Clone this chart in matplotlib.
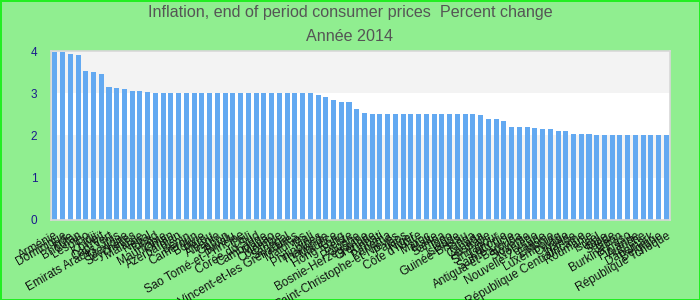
import matplotlib
matplotlib.use("Agg")
import matplotlib.pyplot as plt
import numpy as np

plt.rcParams["font.family"] = ["Liberation Sans", "DejaVu Sans"]

# Data (percent change, end of period, 2014)
countries = [
    "Arménie", "Dominique", "Inde", "Bhoutan", "Lesotho", "Fidji", "Koweït",
    "Cap-Vert", "Emirats Arabes Unis", "Mexique", "Seychelles", "Malaisie",
    "Népal", "Tchad", "Mauritanie", "Oman", "Azerbaïdjan", "Bénin", "Cameroun",
    "Bolivie", "Pérou", "Albanie", "Gabon", "Tuvalu", "Sao Tomé-et-Principe",
    "Chili", "Corée du Sud", "Cambodge", "Macao", "Colombie", "Sénégal",
    "Saint-Vincent-et-les Grenadines", "Maldives", "Mali", "Philippines",
    "Thaïlande", "Maurice", "Hong Kong", "Belize", "Pologne",
    "Bosnie-Herzégovine", "Grenade", "Kiribati", "Panama",
    "Saint-Christophe-et-Niévès", "Palaos", "Niger", "Côte d'Ivoire", "Maroc",
    "Malte", "Samoa", "Togo", "Islande", "Guinée-Bissau", "Tonga", "Canada",
    "Australie", "Singapour", "Lettonie", "Sainte-Lucie", "Antigua-et-Barbuda",
    "Slovénie", "Norvège", "Nouvelle-Zélande", "Estonie", "Luxembourg",
    "Croatie", "Irlande", "République Centrafricaine", "Roumanie", "Israël",
    "Italie", "Suède", "Japon", "Burkina Faso", "Finlande", "Autriche",
    "Danemark", "Belgique", "République Tchèque",
]
values = (
    [3.98, 3.97, 3.94, 3.90, 3.52, 3.50, 3.45, 3.14, 3.12, 3.09, 3.05, 3.05, 3.02]
    + [3.0] * 21
    + [2.95, 2.91, 2.83, 2.79, 2.79, 2.62, 2.53]
    + [2.5] * 14
    + [2.48, 2.39, 2.39, 2.34, 2.20, 2.20, 2.20, 2.17, 2.15, 2.15, 2.10, 2.10,
       2.03, 2.03, 2.03]
    + [2.0] * 10
)
yticks = [0, 1, 2, 3, 4]

fig = plt.figure(figsize=(7, 3), dpi=100, facecolor="#90ee90",
                 edgecolor="#22ee22", linewidth=2)
ax = fig.add_axes([0.073, 0.267, 0.884, 0.563])

# alternating horizontal bands
for lo, hi in zip(yticks[:-1], yticks[1:]):
    ax.axhspan(lo, hi, color="#f3f3f3" if lo % 2 == 1 else "white", zorder=0, lw=0)

x = np.arange(len(values))
ax.bar(x, values, width=0.65, color="#63a9f1", zorder=2)

ax.set_xlim(-0.48, len(values) - 0.55)
ax.set_ylim(0, 4)
ax.set_yticks(yticks)
ax.set_yticklabels([str(t) for t in yticks], color="#1a1a8c", fontsize=8.5)
ax.tick_params(axis="y", length=0, pad=10)
ax.tick_params(axis="x", length=0, pad=7)
ax.set_xticks(x)
ax.set_xticklabels(countries, rotation=30, ha="right", rotation_mode="anchor",
                   fontsize=8.5, color="#111111")
for s in ax.spines.values():
    s.set_color("#d8d8d8")
    s.set_linewidth(1.2)

fig.text(0.5, 0.958, "Inflation, end of period consumer prices  Percent change",
         ha="center", va="center", fontsize=11.6, color="#555555")
fig.text(0.5, 0.878, "Année 2014", ha="center", va="center", fontsize=11.6,
         color="#555555")

fig.savefig("out.png", dpi=100, facecolor=fig.get_facecolor(),
            edgecolor=fig.get_edgecolor())
